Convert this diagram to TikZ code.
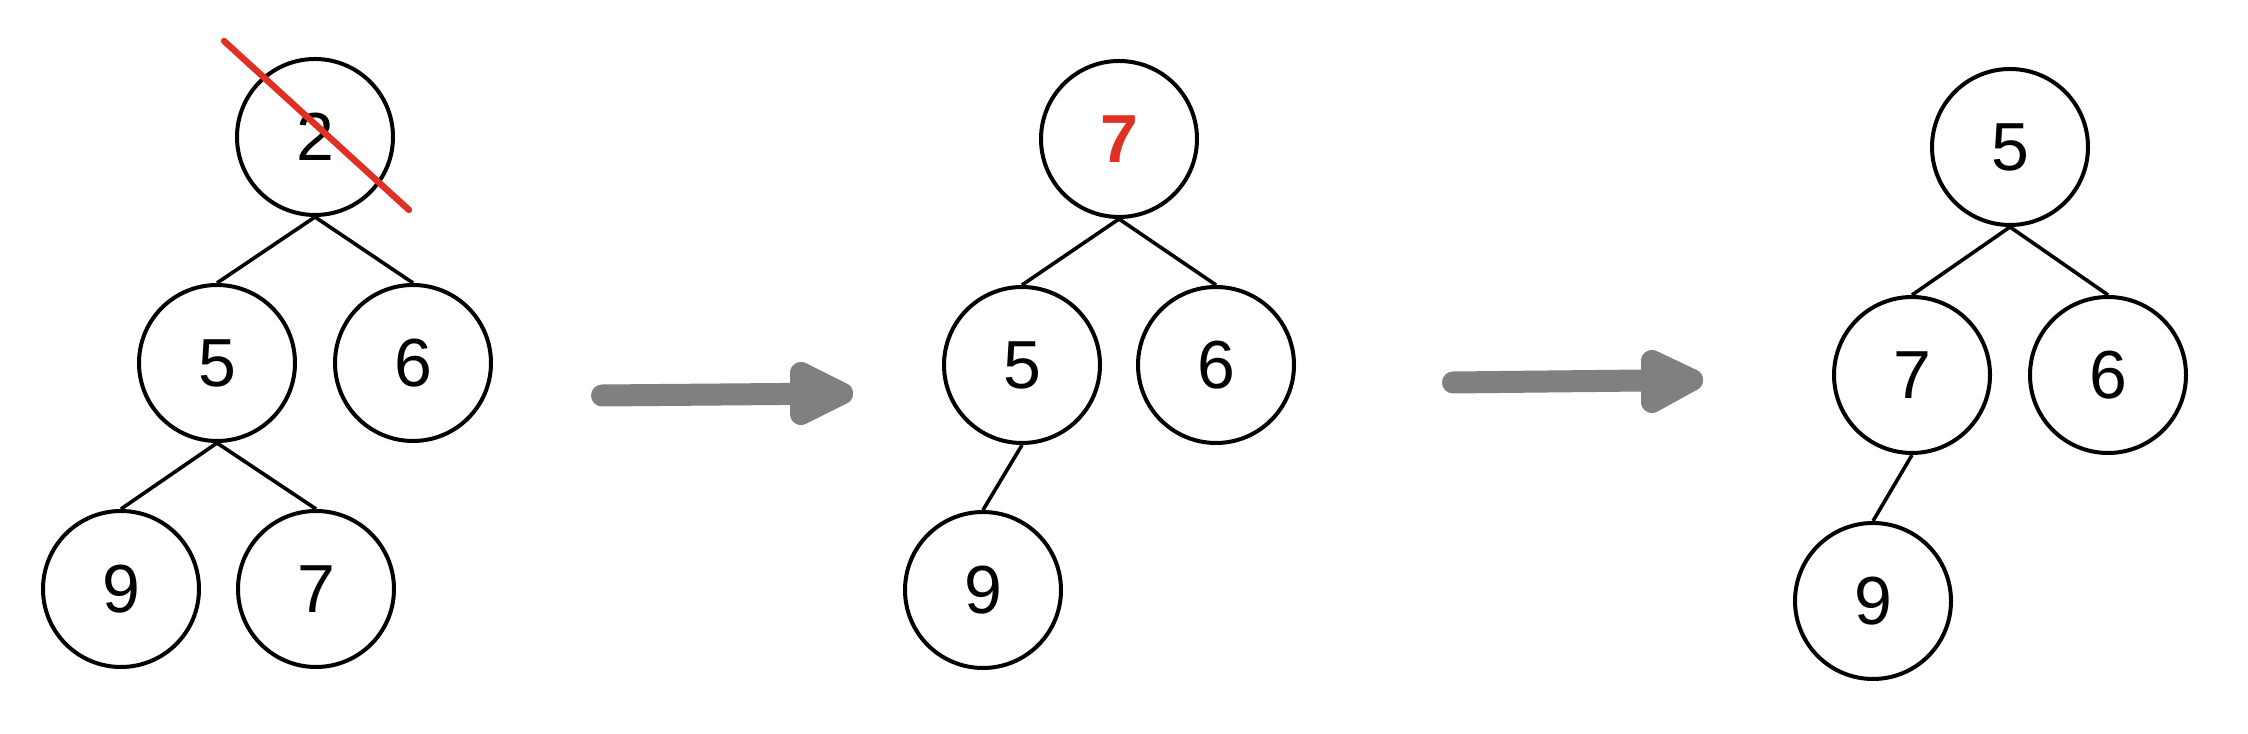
\documentclass[tikz,border=0pt]{standalone}
\usepackage{fontspec}
\setmainfont{Liberation Sans}
\definecolor{hred}{RGB}{224,48,36}
\definecolor{agray}{RGB}{128,128,128}
\begin{document}
\begin{tikzpicture}[x=0.25pt,y=-0.25pt,
  tnode/.style={circle,draw=black,line width=1pt,minimum size=39pt,inner sep=0pt,
    font=\fontsize{17pt}{18pt}\selectfont},
  tedge/.style={draw=black,line width=0.9pt},
  bigarrow/.style={draw=agray,fill=agray,line width=5.5pt,line cap=round,line join=round}]
\useasboundingbox (0,0) rectangle (2248,734);
% tree 1
\node[tnode] (a2) at (315,137) {2};
\node[tnode] (a5) at (217,363) {5};
\node[tnode] (a6) at (413,363) {6};
\node[tnode] (a9) at (121,589) {9};
\node[tnode] (a7) at (316,589) {7};
\draw[tedge] (a2.south) -- (a5.north);
\draw[tedge] (a2.south) -- (a6.north);
\draw[tedge] (a5.south) -- (a9.north);
\draw[tedge] (a5.south) -- (a7.north);
\coordinate (x1) at (224,41);
\coordinate (x2) at (409,210);
\draw[hred,line width=1.6pt,line cap=round] (x1) -- (x2);
% arrow 1
\coordinate (p1s) at (602,395.5);
\coordinate (p1t) at (842,393.5);
\coordinate (p1a) at (801,373);
\coordinate (p1b) at (801,414);
\draw[bigarrow] (p1s) -- (p1t);
\filldraw[bigarrow] (p1a) -- (p1t) -- (p1b) -- cycle;
% tree 2
\node[tnode,text=hred,font=\fontsize{17pt}{18pt}\selectfont\bfseries] (b7) at (1119,139) {7};
\node[tnode] (b5) at (1022,365) {5};
\node[tnode] (b6) at (1216,365) {6};
\node[tnode] (b9) at (983,590) {9};
\draw[tedge] (b7.south) -- (b5.north);
\draw[tedge] (b7.south) -- (b6.north);
\draw[tedge] (b5.south) -- (b9.north);
% arrow 2
\coordinate (p2s) at (1453,382.5);
\coordinate (p2t) at (1692,380);
\coordinate (p2a) at (1652,361);
\coordinate (p2b) at (1652,402);
\draw[bigarrow] (p2s) -- (p2t);
\filldraw[bigarrow] (p2a) -- (p2t) -- (p2b) -- cycle;
% tree 3
\node[tnode] (c5) at (2010,147) {5};
\node[tnode] (c7) at (1912,375) {7};
\node[tnode] (c6) at (2108,375) {6};
\node[tnode] (c9) at (1873,601) {9};
\draw[tedge] (c5.south) -- (c7.north);
\draw[tedge] (c5.south) -- (c6.north);
\draw[tedge] (c7.south) -- (c9.north);
\end{tikzpicture}
\end{document}
